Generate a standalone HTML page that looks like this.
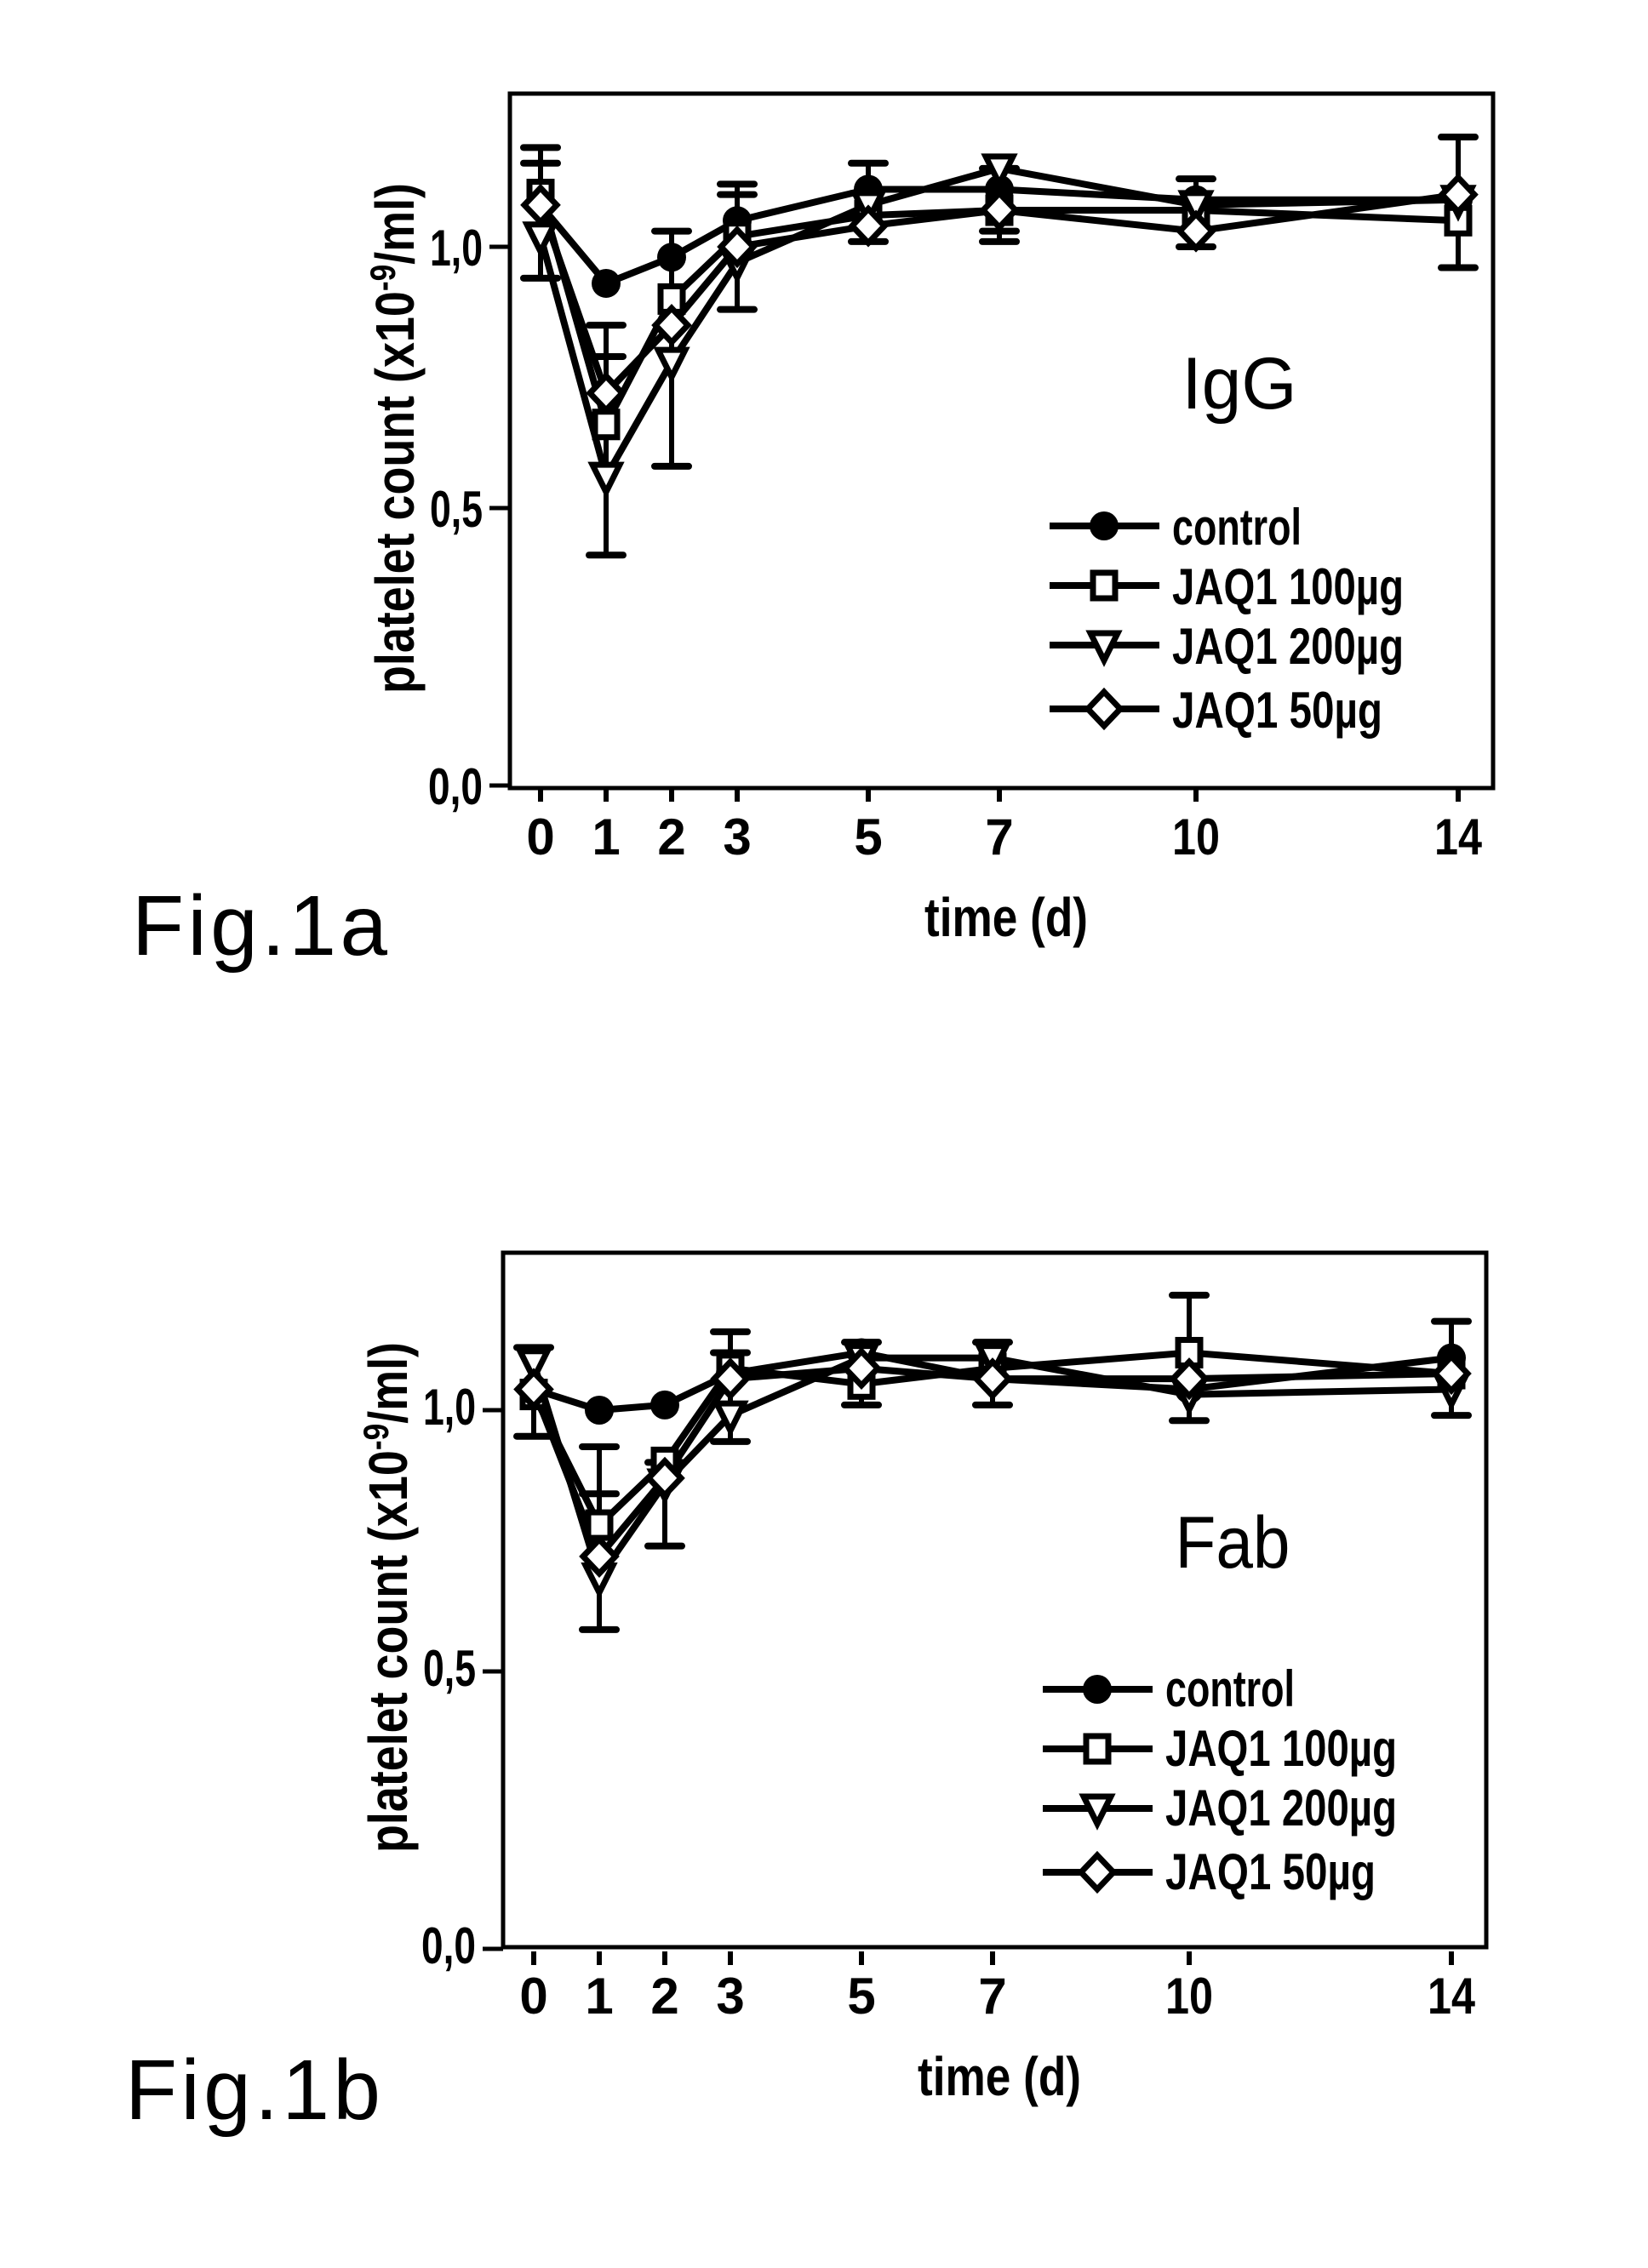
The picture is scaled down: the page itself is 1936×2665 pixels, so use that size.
<!DOCTYPE html>
<html><head><meta charset="utf-8"><style>
html,body{margin:0;padding:0;background:#fff;}
svg{display:block;}
text{font-family:"Liberation Sans",sans-serif;fill:#000;}
.b{font-weight:bold;}
</style></head><body>
<svg id="s" width="1936" height="2665" viewBox="0 0 1936 2665" xmlns="http://www.w3.org/2000/svg">
<g id="c1">
<rect x="599" y="110" width="1155" height="816" fill="none" stroke="#000" stroke-width="5"/>
<text class="b" x="567" y="312" font-size="60" text-anchor="end" textLength="62" lengthAdjust="spacingAndGlyphs">1,0</text>
<text class="b" x="567" y="619" font-size="60" text-anchor="end" textLength="62" lengthAdjust="spacingAndGlyphs">0,5</text>
<text class="b" x="567" y="945" font-size="60" text-anchor="end" textLength="64" lengthAdjust="spacingAndGlyphs">0,0</text>
<text class="b" font-size="64" text-anchor="middle" transform="translate(486,515) rotate(-90)" textLength="600" lengthAdjust="spacingAndGlyphs">platelet count (x10<tspan dy="-22" font-size="42">-9</tspan><tspan dy="22">/ml)</tspan></text>
<text class="b" x="1182" y="1100" font-size="64" text-anchor="middle" textLength="192" lengthAdjust="spacingAndGlyphs">time (d)</text>
<text x="1456" y="480" font-size="86" text-anchor="middle" textLength="135" lengthAdjust="spacingAndGlyphs">IgG</text>
</g>
<g id="c2" transform="translate(-8,1362)">
<rect x="599" y="110" width="1155" height="816" fill="none" stroke="#000" stroke-width="5"/>
<text class="b" x="567" y="312" font-size="60" text-anchor="end" textLength="62" lengthAdjust="spacingAndGlyphs">1,0</text>
<text class="b" x="567" y="619" font-size="60" text-anchor="end" textLength="62" lengthAdjust="spacingAndGlyphs">0,5</text>
<text class="b" x="567" y="945" font-size="60" text-anchor="end" textLength="64" lengthAdjust="spacingAndGlyphs">0,0</text>
<text class="b" font-size="64" text-anchor="middle" transform="translate(486,515) rotate(-90)" textLength="600" lengthAdjust="spacingAndGlyphs">platelet count (x10<tspan dy="-22" font-size="42">-9</tspan><tspan dy="22">/ml)</tspan></text>
<text class="b" x="1182" y="1100" font-size="64" text-anchor="middle" textLength="192" lengthAdjust="spacingAndGlyphs">time (d)</text>
<text x="1456" y="480" font-size="86" text-anchor="middle" textLength="135" lengthAdjust="spacingAndGlyphs">Fab</text>
</g>
<text x="155" y="1122" font-size="100" textLength="300" lengthAdjust="spacing">Fig.1a</text>
<text x="147" y="2490" font-size="100" textLength="300" lengthAdjust="spacing">Fig.1b</text>
<g id="labels">
<text class="b" x="1377" y="640" font-size="60" textLength="152" lengthAdjust="spacingAndGlyphs">control</text>
<text class="b" x="1377" y="710" font-size="60" textLength="272" lengthAdjust="spacingAndGlyphs">JAQ1 100µg</text>
<text class="b" x="1377" y="780" font-size="60" textLength="272" lengthAdjust="spacingAndGlyphs">JAQ1 200µg</text>
<text class="b" x="1377" y="855" font-size="60" textLength="247" lengthAdjust="spacingAndGlyphs">JAQ1 50µg</text>
<text class="b" x="1369" y="2005" font-size="60" textLength="152" lengthAdjust="spacingAndGlyphs">control</text>
<text class="b" x="1369" y="2075" font-size="60" textLength="272" lengthAdjust="spacingAndGlyphs">JAQ1 100µg</text>
<text class="b" x="1369" y="2145" font-size="60" textLength="272" lengthAdjust="spacingAndGlyphs">JAQ1 200µg</text>
<text class="b" x="1369" y="2220" font-size="60" textLength="247" lengthAdjust="spacingAndGlyphs">JAQ1 50µg</text>
<text class="b" x="635" y="1004" font-size="60" text-anchor="middle">0</text>
<text class="b" x="712" y="1004" font-size="60" text-anchor="middle">1</text>
<text class="b" x="789" y="1004" font-size="60" text-anchor="middle">2</text>
<text class="b" x="866" y="1004" font-size="60" text-anchor="middle">3</text>
<text class="b" x="1020" y="1004" font-size="60" text-anchor="middle">5</text>
<text class="b" x="1174" y="1004" font-size="60" text-anchor="middle">7</text>
<text class="b" x="1405" y="1004" font-size="60" text-anchor="middle" textLength="56" lengthAdjust="spacingAndGlyphs">10</text>
<text class="b" x="1713" y="1004" font-size="60" text-anchor="middle" textLength="56" lengthAdjust="spacingAndGlyphs">14</text>
<text class="b" x="627" y="2366" font-size="60" text-anchor="middle">0</text>
<text class="b" x="704" y="2366" font-size="60" text-anchor="middle">1</text>
<text class="b" x="781" y="2366" font-size="60" text-anchor="middle">2</text>
<text class="b" x="858" y="2366" font-size="60" text-anchor="middle">3</text>
<text class="b" x="1012" y="2366" font-size="60" text-anchor="middle">5</text>
<text class="b" x="1166" y="2366" font-size="60" text-anchor="middle">7</text>
<text class="b" x="1397" y="2366" font-size="60" text-anchor="middle" textLength="56" lengthAdjust="spacingAndGlyphs">10</text>
<text class="b" x="1705" y="2366" font-size="60" text-anchor="middle" textLength="56" lengthAdjust="spacingAndGlyphs">14</text>
</g>
</svg>
<script>
(function(){
var NS="http://www.w3.org/2000/svg",s=document.getElementById('s');
function el(t,a,p){var e=document.createElementNS(NS,t);for(var k in a)e.setAttribute(k,a[k]);(p||s).appendChild(e);return e;}
var days=[0,1,2,3,5,7,10,14];
function marker(g,type,x,y){
 if(type==0){el('circle',{cx:x,cy:y,r:17,fill:"#000"},g);}
 else if(type==1){el('rect',{x:x-13,y:y-15,width:26,height:30,fill:"#fff",stroke:"#000","stroke-width":7},g);}
 else if(type==2){el('path',{d:"M"+(x-16)+","+(y-14)+"L"+(x+16)+","+(y-14)+"L"+x+","+(y+18)+"Z",fill:"#fff",stroke:"#000","stroke-width":7},g);}
 else {el('path',{d:"M"+x+","+(y-20)+"L"+(x+19)+","+y+"L"+x+","+(y+20)+"L"+(x-19)+","+y+"Z",fill:"#fff",stroke:"#000","stroke-width":7},g);}
}
function chart(ox,oy,data,errs){
 var g=el('g',{});
 function X(d){return ox+635+77*d;} function Y(v){return oy+904-614*v;}
 [0,0.5,1].forEach(function(v){var y=v==0?oy+923:Y(v);el('line',{x1:ox+575,y1:y,x2:ox+599,y2:y,stroke:"#000","stroke-width":5},g);});
 days.forEach(function(d){el('line',{x1:X(d),y1:oy+926,x2:X(d),y2:oy+942,stroke:"#000","stroke-width":6},g);});
 errs.forEach(function(e){var x=X(e[0]);el('line',{x1:x,y1:Y(e[1]),x2:x,y2:Y(e[2]),stroke:"#000","stroke-width":6},g);
  [e[1],e[2]].concat(e.slice(3)).forEach(function(v){el('line',{x1:x-20,y1:Y(v),x2:x+20,y2:Y(v),stroke:"#000","stroke-width":8,"stroke-linecap":"round"},g);});});
 data.forEach(function(sr){var p="";sr.forEach(function(v,i){p+=(i?"L":"M")+X(days[i])+","+Y(v);});
  el('path',{d:p,fill:"none",stroke:"#000","stroke-width":8,"stroke-linejoin":"round"},g);});
 data.forEach(function(sr,t){sr.forEach(function(v,i){marker(g,t,X(days[i]),Y(v));});});
 [618,688,758,833].forEach(function(y,t){el('line',{x1:ox+1233,y1:oy+y,x2:ox+1362,y2:oy+y,stroke:"#000","stroke-width":8},g);marker(g,t,ox+1297,oy+y);});
}
chart(0,0,[
 [1.08,0.93,0.98,1.05,1.11,1.11,1.09,1.09],
 [1.10,0.66,0.90,1.02,1.06,1.07,1.07,1.05],
 [1.02,0.56,0.78,0.97,1.08,1.15,1.08,1.09],
 [1.08,0.72,0.85,1.00,1.04,1.07,1.03,1.10]],
 [[0,1.19,0.94,1.16],[1,0.85,0.41,0.79],[2,1.03,0.58],[3,1.12,0.88,1.10],[5,1.16,1.01],[7,1.15,1.01,1.03],[10,1.13,1.00],[14,1.21,0.96]]);
chart(-8,1367,[
 [1.04,1.00,1.01,1.07,1.11,1.06,1.04,1.10],
 [1.03,0.78,0.90,1.08,1.05,1.08,1.11,1.07],
 [1.09,0.68,0.86,0.99,1.10,1.10,1.03,1.04],
 [1.04,0.72,0.87,1.06,1.08,1.06,1.06,1.07]],
 [[0,1.12,0.95],[1,0.93,0.58,0.84],[2,0.90,0.74],[3,1.15,0.94,1.11],[5,1.13,1.01],[7,1.13,1.01],[10,1.22,0.98],[14,1.17,0.99]]);
})();
</script>
</body></html>
